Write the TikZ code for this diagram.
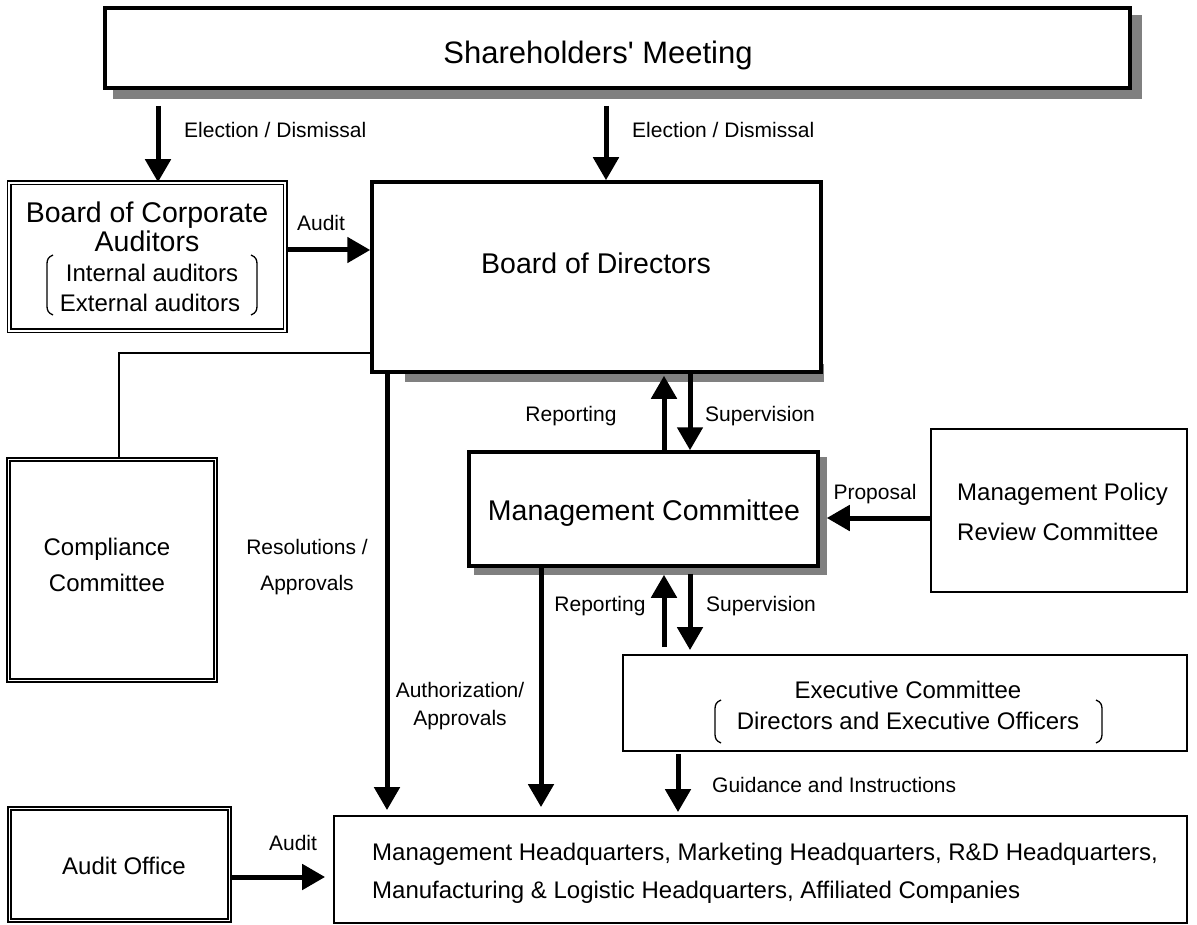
\documentclass[tikz,border=0pt]{standalone}
\usepackage{fontspec}
\setmainfont{Liberation Sans}[Ligatures=TeXOff]
\usetikzlibrary{arrows.meta,calc}
\pgfdeclarelayer{bg}
\pgfsetlayers{bg,main}
\begin{document}
\begin{tikzpicture}[x=1pt,y=-1pt,
  lbl/.style={inner sep=0pt,anchor=base,font=\fontsize{21}{25}\selectfont},
  lblw/.style={lbl,anchor=base west},
  med/.style={inner sep=0pt,anchor=base,font=\fontsize{24}{29}\selectfont},
  medw/.style={med,anchor=base west},
  big/.style={inner sep=0pt,anchor=base,font=\fontsize{28.5}{33}\selectfont},
  thickbox/.style={draw,line width=3.5pt,fill=white,inner sep=0pt,minimum width=#1},
  thinbox/.style={draw,line width=1.8pt,fill=white,inner sep=0pt,minimum width=#1},
  dblbox/.style={draw,double,double distance=1.8pt,line width=1.6pt,fill=white,inner sep=0pt,minimum width=#1},
  shade/.style={fill=black!50},
  arr/.style={line width=5pt,-{Triangle[length=23pt,width=25pt]}},
  conn/.style={line width=1.6pt},
  brk/.style={line width=1.3pt}]
\useasboundingbox (0,0) rectangle (1197,925);

% boxes
\node[thickbox=1025pt,minimum height=80pt] (sh) at (617.5,48) {};
\node[dblbox=276pt,minimum height=148pt] (aud) at (147,257) {};
\node[thickbox=449pt,minimum height=190pt] (bod) at (596.5,277) {};
\node[dblbox=207pt,minimum height=221pt] (comp) at (112,570) {};
\node[thickbox=349pt,minimum height=114pt] (mc) at (643.5,509) {};
\node[thinbox=256pt,minimum height=163pt] (mprc) at (1059,510.5) {};
\node[thinbox=564pt,minimum height=96pt] (ex) at (905,703) {};
\node[thinbox=853pt,minimum height=107pt] (hq) at (760.5,869.5) {};
\node[dblbox=220pt,minimum height=112pt] (ao) at (119.5,864.5) {};

% shadows
\begin{pgfonlayer}{bg}
\fill[shade] ($(sh.north west)+(10,9)$) rectangle ($(sh.south east)+(10,9)$);
\fill[shade] ($(bod.south west)+(35,-10)$) rectangle ($(bod.south east)+(1,8)$);
\fill[shade] ($(mc.north west)+(7,7)$) rectangle ($(mc.south east)+(7,7)$);
\end{pgfonlayer}

% box texts
\node[big,font=\fontsize{31}{36}\selectfont] (tsh) at (598,64) {Shareholders' Meeting};
\node[big] (taud1) at (147,223) {Board of Corporate};
\node[big] (taud2) at (147,252) {Auditors};
\node[med] (taud3) at (152,281.6) {Internal auditors};
\node[med] (taud4) at (150,311.6) {External auditors};
\node[big] (tbod) at (596,274) {Board of Directors};
\node[med] (tcomp1) at (107,555.6) {Compliance};
\node[med] (tcomp2) at (107,591.6) {Committee};
\node[big] (tmc) at (644,520) {Management Committee};
\node[medw] (tmp1) at (957,500.6) {Management Policy};
\node[medw] (tmp2) at (957,540.6) {Review Committee};
\node[med] (tex1) at (908,698.6) {Executive Committee};
\node[med] (tex2) at (908,729.6) {Directors and Executive Officers};
\node[medw] (thq1) at (372,860.6) {Management Headquarters, Marketing Headquarters, R\&D Headquarters,};
\node[medw] (thq2) at (372,898.6) {Manufacturing \& Logistic Headquarters, Affiliated Companies};
\node[med] (tao) at (124,874.6) {Audit Office};

% brackets
\draw[brk] (53,255) .. controls (48,257) and (47,260) .. (47,264) -- (47,306) .. controls (47,310) and (48,313) .. (53,315);
\draw[brk] (251,255) .. controls (256,257) and (257,260) .. (257,264) -- (257,306) .. controls (257,310) and (256,313) .. (251,315);
\draw[brk] (721,700) .. controls (716,702) and (715,705) .. (715,709) -- (715,734) .. controls (715,738) and (716,741) .. (721,743);
\draw[brk] (1096,700) .. controls (1101,702) and (1102,705) .. (1102,709) -- (1102,734) .. controls (1102,738) and (1101,741) .. (1096,743);

% coordinates
\coordinate (e1) at (158,106);
\coordinate (e2) at (606,106);
\coordinate (ya) at (0,250);
\coordinate (cj) at (119,353);
\coordinate (xr) at (387,0);
\coordinate (xa) at (541,0);
\coordinate (xu) at (664,0);
\coordinate (xd) at (690,0);
\coordinate (xg) at (678,0);
\coordinate (ym) at (0,518);
\coordinate (yb) at (0,877);

% connectors
\draw[arr] (e1) -- (e1 |- aud.north);
\draw[arr] (e2) -- (e2 |- bod.north);
\draw[arr] (aud.east |- ya) -- (bod.west |- ya);
\draw[conn] (bod.west |- cj) -- (cj) -- (cj |- comp.north);
\draw[arr,shorten >=5pt] (bod.south -| xr) -- (hq.north -| xr);
\draw[arr] (mc.north -| xu) -- ($(bod.south -| xu)+(0,2)$);
\draw[arr] (bod.south -| xd) -- (mc.north -| xd);
\draw[arr] ($(ex.north -| xu)+(0,-7)$) -- ($(mc.south -| xu)+(0,7)$);
\draw[arr] ($(mc.south -| xd)+(0,6)$) -- ($(ex.north -| xd)+(0,-4)$);
\draw[arr] (mprc.west |- ym) -- ($(mc.east |- ym)+(7,0)$);
\draw[arr,shorten >=8pt] (mc.south -| xa) -- (hq.north -| xa);
\draw[arr,shorten >=3pt] ($(ex.south -| xg)+(0,2)$) -- (hq.north -| xg);
\draw[arr,shorten >=8pt] (ao.east |- yb) -- (hq.west |- yb);

% labels
\node[lblw] (l1) at (184,137.5) {Election / Dismissal};
\node[lblw] (l2) at (632,137.5) {Election / Dismissal};
\node[lbl] (l3) at (321,230.5) {Audit};
\node[lbl] (l4) at (307,554.5) {Resolutions /};
\node[lbl] (l5) at (307,590.5) {Approvals};
\node[lbl] (l6) at (571,421) {Reporting};
\node[lblw] (l7) at (705,421) {Supervision};
\node[lbl] (l8) at (875,499.5) {Proposal};
\node[lbl] (l9) at (600,611.5) {Reporting};
\node[lblw] (l10) at (706,611.5) {Supervision};
\node[lbl] (l11) at (460,697.5) {Authorization/};
\node[lbl] (l12) at (460,725.5) {Approvals};
\node[lblw] (l13) at (712,792.5) {Guidance and Instructions};
\node[lbl] (l14) at (293,850.5) {Audit};
\end{tikzpicture}
\end{document}
